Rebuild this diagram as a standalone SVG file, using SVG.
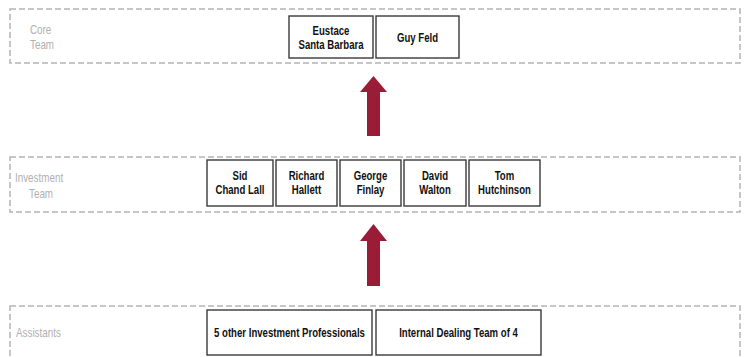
<svg xmlns="http://www.w3.org/2000/svg" width="745" height="357" viewBox="0 0 745 357">
<style>
.frame{fill:none;stroke:#b4b4b4;stroke-width:1.5;stroke-dasharray:6 3}
.box{fill:#fff;stroke:#3a3a3a;stroke-width:1.4}
.t{font-family:"Liberation Sans",Arial,sans-serif;font-weight:bold;font-size:12px;fill:#111;text-anchor:middle}
.lbl{font-family:"Liberation Sans",Arial,sans-serif;font-size:12px;fill:#b0b0b0}
.arrow{fill:#9b1c37}
</style>
<rect width="745" height="357" fill="#fff"/>
<g id="frames">
<rect class="frame" x="10" y="9" width="730" height="54"/>
<rect class="frame" x="10" y="157" width="730" height="55"/>
<rect class="frame" x="10" y="306" width="730" height="60"/>
</g>
<g id="labels">
<text class="lbl" transform="translate(30,34) scale(0.82,1)">Core</text>
<text class="lbl" transform="translate(30,49) scale(0.82,1)">Team</text>
<text class="lbl" transform="translate(15,182) scale(0.82,1)">Investment</text>
<text class="lbl" transform="translate(29,198) scale(0.82,1)">Team</text>
<text class="lbl" transform="translate(16,337) scale(0.82,1)">Assistants</text>
</g>
<g id="connectors">
<polygon class="arrow" points="373.5,76 387,92 380,92 380,136 367,136 367,92 360,92"/>
<polygon class="arrow" points="373.5,224 387,241 380,241 380,286 367,286 367,241 360,241"/>
</g>
<g id="n-eustace"><rect class="box" x="289" y="16" width="84" height="42"/>
<text class="t" transform="translate(331,35) scale(0.8,1)">Eustace</text>
<text class="t" transform="translate(331,49) scale(0.8,1)">Santa Barbara</text></g>
<g id="n-guy"><rect class="box" x="376" y="16" width="83" height="42"/>
<text class="t" transform="translate(417.5,42) scale(0.8,1)">Guy Feld</text></g>
<g id="n-sid"><rect class="box" x="207" y="160" width="66" height="46"/>
<text class="t" transform="translate(240,180) scale(0.8,1)">Sid</text>
<text class="t" transform="translate(240,194) scale(0.8,1)">Chand Lall</text></g>
<g id="n-richard"><rect class="box" x="276" y="160" width="61" height="46"/>
<text class="t" transform="translate(306.5,180) scale(0.8,1)">Richard</text>
<text class="t" transform="translate(306.5,194) scale(0.8,1)">Hallett</text></g>
<g id="n-george"><rect class="box" x="340" y="160" width="61" height="46"/>
<text class="t" transform="translate(370.5,180) scale(0.8,1)">George</text>
<text class="t" transform="translate(370.5,194) scale(0.8,1)">Finlay</text></g>
<g id="n-david"><rect class="box" x="404" y="160" width="62" height="46"/>
<text class="t" transform="translate(435,180) scale(0.8,1)">David</text>
<text class="t" transform="translate(435,194) scale(0.8,1)">Walton</text></g>
<g id="n-tom"><rect class="box" x="469" y="160" width="71" height="46"/>
<text class="t" transform="translate(504.5,180) scale(0.8,1)">Tom</text>
<text class="t" transform="translate(504.5,194) scale(0.8,1)">Hutchinson</text></g>
<g id="n-five"><rect class="box" x="207" y="310" width="165" height="45"/>
<text class="t" transform="translate(289.5,337) scale(0.8,1)">5 other Investment Professionals</text></g>
<g id="n-dealing"><rect class="box" x="376" y="310" width="165" height="45"/>
<text class="t" transform="translate(458.5,337) scale(0.8,1)">Internal Dealing Team of 4</text></g>
</svg>
